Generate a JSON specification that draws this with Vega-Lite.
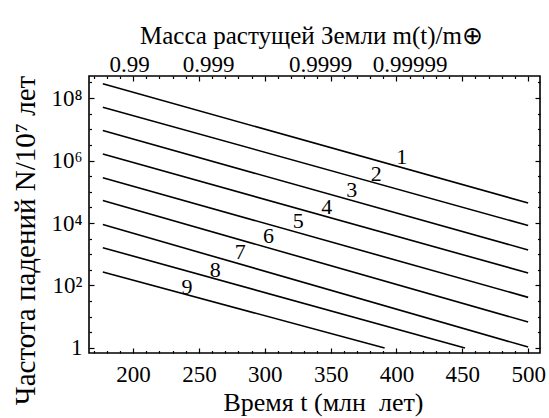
{
  "$schema": "https://vega.github.io/schema/vega-lite/v6.json",
  "width": 451,
  "height": 277,
  "autosize": {"type": "none"},
  "padding": {"left": 89, "top": 76, "right": 9, "bottom": 65},
  "background": "white",
  "config": {
    "font": "Liberation Serif",
    "view": {"stroke": "black", "strokeWidth": 1.6},
    "text": {"font": "Liberation Serif"},
    "axis": {
      "domain": false,
      "grid": false,
      "tickColor": "black",
      "tickWidth": 1.2,
      "labelColor": "black",
      "labelFont": "Liberation Serif",
      "labelFontSize": 23,
      "labelOverlap": false,
      "labelFlush": false,
      "labelBound": false,
      "titleFont": "Liberation Serif",
      "titleFontSize": 26,
      "titleFontWeight": "normal",
      "titleColor": "black"
    }
  },
  "datasets": {
    "lines": [
      {"k": "1", "t": 177, "N": 288000000}, {"k": "1", "t": 500, "N": 43652},
      {"k": "2", "t": 177, "N": 51300000}, {"k": "2", "t": 500, "N": 8318},
      {"k": "3", "t": 177, "N": 9120000}, {"k": "3", "t": 500, "N": 1380},
      {"k": "4", "t": 177, "N": 1620000}, {"k": "4", "t": 500, "N": 251},
      {"k": "5", "t": 177, "N": 282000}, {"k": "5", "t": 500, "N": 41.7},
      {"k": "6", "t": 177, "N": 52500}, {"k": "6", "t": 500, "N": 6.76},
      {"k": "7", "t": 177, "N": 8913}, {"k": "7", "t": 500, "N": 1.07},
      {"k": "8", "t": 177, "N": 1622}, {"k": "8", "t": 452, "N": 1},
      {"k": "9", "t": 177, "N": 269}, {"k": "9", "t": 391, "N": 1}
    ],
    "labels": [
      {"k": "1", "t": 404, "N": 1290000},
      {"k": "2", "t": 384.6, "N": 370000},
      {"k": "3", "t": 366, "N": 116000},
      {"k": "4", "t": 347, "N": 32500},
      {"k": "5", "t": 325.5, "N": 11200},
      {"k": "6", "t": 302.8, "N": 3720},
      {"k": "7", "t": 281.3, "N": 1150},
      {"k": "8", "t": 262.3, "N": 304},
      {"k": "9", "t": 241, "N": 91}
    ]
  },
  "layer": [
    {
      "data": {"name": "lines"},
      "mark": {"type": "line", "color": "black", "strokeWidth": 1.6},
      "encoding": {
        "x": {
          "field": "t", "type": "quantitative",
          "scale": {"domain": [166.5, 509], "nice": false, "zero": false},
          "axis": {
            "orient": "bottom",
            "values": [170,180,190,200,210,220,230,240,250,260,270,280,290,300,310,320,330,340,350,360,370,380,390,400,410,420,430,440,450,460,470,480,490,500],
            "tickSize": {"condition": {"test": "datum.value % 50 === 0", "value": -5}, "value": -2.5},
            "labelExpr": "datum.value % 50 === 0 ? datum.label : ''",
            "labelFont": "Liberation Serif",
            "labelFontSize": 23,
            "labelPadding": 15,
            "title": "Время t (млн\u00a0 лет)",
            "titleFont": "Liberation Serif",
            "titleFontSize": 26,
            "titleX": 234,
            "titleY": 57,
            "titleAlign": "center",
            "titleBaseline": "alphabetic"
          }
        },
        "y": {
          "field": "N", "type": "quantitative",
          "scale": {"type": "log", "domain": [0.69, 510000000], "nice": false},
          "axis": {
            "orient": "left",
            "values": [1, 3.16227766, 10, 31.6227766, 100, 316.227766, 1000, 3162.27766, 10000, 31622.7766, 100000, 316227.766, 1000000, 3162277.66, 10000000, 31622776.6, 100000000, 316227766],
            "tickSize": {"condition": {"test": "datum.value === 1 || datum.value === 100 || datum.value === 10000 || datum.value === 1000000 || datum.value === 100000000", "value": -5}, "value": -2.5},
            "labelExpr": "datum.value === 1 ? '1' : datum.value === 100 ? '10²' : datum.value === 10000 ? '10⁴' : datum.value === 1000000 ? '10⁶' : datum.value === 100000000 ? '10⁸' : ''",
            "labelFont": "Liberation Serif",
            "labelFontSize": 23,
            "labelPadding": 12,
            "title": "Частота падений N/10⁷ лет",
            "titleFont": "Liberation Serif",
            "titleFontSize": 29,
            "titleX": -64,
            "titleY": 164,
            "titleAngle": -90,
            "titleAlign": "center",
            "titleBaseline": "middle"
          }
        },
        "detail": {"field": "k", "type": "nominal"}
      }
    },
    {
      "data": {"name": "labels"},
      "mark": {"type": "text", "font": "Liberation Serif", "fontSize": 22, "color": "black", "align": "center", "baseline": "middle"},
      "encoding": {
        "x": {
          "field": "t", "type": "quantitative",
          "axis": {
            "orient": "top",
            "values": [170,180,190,197,200,210,220,230,240,250,257,260,270,280,290,300,310,320,330,340,342,350,360,370,380,390,400,410,420,430,440,450,460,470,480,490,500],
            "tickSize": {"condition": {"test": "datum.value % 50 === 0", "value": -5}, "value": -2.5},
            "tickOpacity": {"condition": {"test": "datum.value === 197 || datum.value === 257 || datum.value === 342", "value": 0}, "value": 1},
            "labelExpr": "datum.value === 197 ? '0.99' : datum.value === 257 ? '0.999' : datum.value === 342 ? '0.9999' : datum.value === 410 ? '0.99999' : ''",
            "labelFont": "Liberation Serif",
            "labelFontSize": 23,
            "labelPadding": 2,
            "title": "Масса растущей Земли m(t)/m⊕",
            "titleFont": "Liberation Serif",
            "titleFontSize": 25,
            "titleX": 222,
            "titleY": -33,
            "titleAlign": "center",
            "titleBaseline": "alphabetic"
          }
        },
        "y": {
          "field": "N", "type": "quantitative",
          "axis": {
            "orient": "right",
            "values": [1, 3.16227766, 10, 31.6227766, 100, 316.227766, 1000, 3162.27766, 10000, 31622.7766, 100000, 316227.766, 1000000, 3162277.66, 10000000, 31622776.6, 100000000, 316227766],
            "tickSize": {"condition": {"test": "datum.value === 1 || datum.value === 100 || datum.value === 10000 || datum.value === 1000000 || datum.value === 100000000", "value": -5}, "value": -2.5},
            "labels": false,
            "title": null
          }
        },
        "text": {"field": "k", "type": "nominal"}
      }
    }
  ],
  "resolve": {"axis": {"x": "independent", "y": "independent"}}
}
